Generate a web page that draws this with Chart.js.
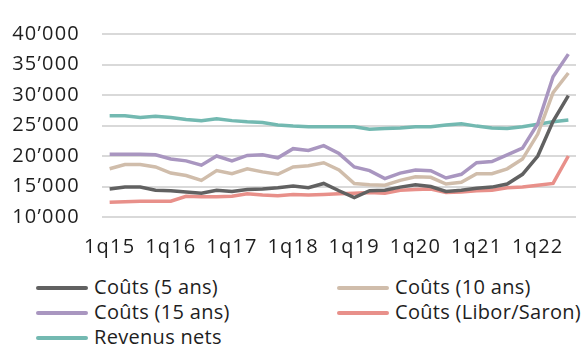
<!DOCTYPE html>
<html>
<head>
<meta charset="utf-8">
<script src="https://cdn.jsdelivr.net/npm/chart.js@4/dist/chart.umd.min.js"></script>
<style>
  html, body { margin: 0; padding: 0; background: #fff; }
  #wrap { position: relative; width: 587px; height: 345px; overflow: hidden; }
  #chart { position: absolute; left: 0; top: 0; }
  .legend { position: absolute; left: 0; top: 274px; width: 587px; font-family: "Open Sans", sans-serif; font-size: 20px; color: #1e1e1e; letter-spacing: 0.3px; }
  .legend .item { position: absolute; height: 25px; line-height: 25px; white-space: nowrap; }
  .legend .swatch { display: inline-block; width: 52px; height: 4px; border-radius: 2px; vertical-align: middle; margin-right: 6px; margin-top: -2px; }
</style>
</head>
<body>
<div id="wrap">
  <canvas id="chart" width="587" height="262"></canvas>
  <div class="legend" id="legend"></div>
</div>
<script>
// quarters shown on the x axis (only every 4th is labelled)
var quarters = ['1q15','2q15','3q15','4q15','1q16','2q16','3q16','4q16',
                '1q17','2q17','3q17','4q17','1q18','2q18','3q18','4q18',
                '1q19','2q19','3q19','4q19','1q20','2q20','3q20','4q20',
                '1q21','2q21','3q21','4q21','1q22','2q22','3q22'];

var cost5 = [14600, 14900, 14900, 14400, 14300, 14100, 13900, 14400, 14200, 14500, 14600, 14800, 15100, 14800, 15500, 14300,
             13200, 14300, 14400, 14900, 15300, 15000, 14200, 14400, 14700, 14900, 15400, 17000, 20000, 25700, 29900];
var cost10 = [17900, 18600, 18600, 18200, 17200, 16800, 16000, 17600, 17100, 17900, 17400, 17000, 18200, 18400, 18900, 17700,
              15500, 15300, 15200, 16000, 16600, 16500, 15400, 15700, 17100, 17100, 17900, 19500, 23600, 30400, 33600];
var cost15 = [20300, 20300, 20300, 20200, 19500, 19200, 18500, 20000, 19200, 20100, 20200, 19700, 21200, 20900, 21700, 20400,
              18200, 17600, 16300, 17200, 17700, 17600, 16400, 17000, 18900, 19100, 20200, 21300, 25300, 33000, 36700];
var costLibor = [12400, 12500, 12600, 12600, 12600, 13400, 13300, 13300, 13400, 13800, 13600, 13500, 13700, 13600, 13700, 13800,
                 13900, 14000, 13900, 14400, 14500, 14600, 14000, 14100, 14300, 14400, 14800, 14900, 15200, 15500, 20000];
var netIncome = [26600, 26600, 26300, 26500, 26300, 26000, 25800, 26100, 25800, 25600, 25500, 25100, 24900, 24800, 24800, 24800,
                 24800, 24400, 24500, 24600, 24800, 24800, 25100, 25300, 24900, 24600, 24500, 24800, 25200, 25600, 25900];

var yTicks = [10000, 15000, 20000, 25000, 30000, 35000, 40000];

var series = [
  {label: 'Coûts (5 ans)', data: cost5, color: '#616161'},
  {label: 'Coûts (10 ans)', data: cost10, color: '#d0bdab'},
  {label: 'Coûts (15 ans)', data: cost15, color: '#a996c0'},
  {label: 'Coûts (Libor/Saron)', data: costLibor, color: '#e8908a'},
  {label: 'Revenus nets', data: netIncome, color: '#73b9b1'}
];

var FONT = {family: '"Open Sans", sans-serif', size: 20};

function fmt(v) {
  return String(v).replace(/\B(?=(\d{3})+(?!\d))/g, '\u2019');
}

// wider tracking for the axis numbers
var tracking = {
  id: 'tracking',
  beforeDraw: function(chart) { chart.ctx.letterSpacing = '1.2px'; }
};

var ctx = document.getElementById('chart').getContext('2d');
var chart = new Chart(ctx, {
  type: 'line',
  plugins: [tracking],
  data: {
    labels: quarters,
    datasets: series.map(function(s) {
      return {
        label: s.label,
        data: s.data,
        borderColor: s.color,
        backgroundColor: s.color,
        borderWidth: 3.5,
        pointRadius: 0,
        tension: 0,
        fill: false
      };
    })
  },
  options: {
    responsive: false,
    animation: false,
    layout: {padding: {top: 22, right: 11, bottom: 0, left: 0}},
    plugins: {legend: {display: false}, tooltip: {enabled: false}},
    scales: {
      x: {
        offset: true,
        grid: {display: false, drawTicks: false},
        border: {display: false},
        ticks: {
          autoSkip: false,
          maxRotation: 0,
          padding: 18,
          color: '#1e1e1e',
          font: FONT,
          callback: function(val, i) { return i % 4 === 0 ? quarters[i] : ''; }
        },
        afterFit: function(scale) { scale.height = 45; }
      },
      y: {
        min: yTicks[0],
        max: yTicks[yTicks.length - 1],
        afterBuildTicks: function(scale) {
          scale.ticks = yTicks.map(function(v) { return {value: v}; });
        },
        grid: {color: '#d9d9d9', lineWidth: 2, drawTicks: false},
        border: {display: false},
        ticks: {
          padding: 22,
          color: '#1e1e1e',
          font: FONT,
          callback: function(v) { return fmt(v); }
        },
        afterFit: function(scale) { scale.width = 102; }
      }
    }
  }
});

// legend in two columns, rows filled left to right
var legendPos = [[36, 0], [337, 0], [36, 25], [337, 25], [36, 50]];
var legend = document.getElementById('legend');
series.forEach(function(s, i) {
  var item = document.createElement('div');
  item.className = 'item';
  item.style.left = legendPos[i][0] + 'px';
  item.style.top = legendPos[i][1] + 'px';
  var sw = document.createElement('span');
  sw.className = 'swatch';
  sw.style.background = s.color;
  item.appendChild(sw);
  item.appendChild(document.createTextNode(s.label));
  legend.appendChild(item);
});
</script>
</body>
</html>
